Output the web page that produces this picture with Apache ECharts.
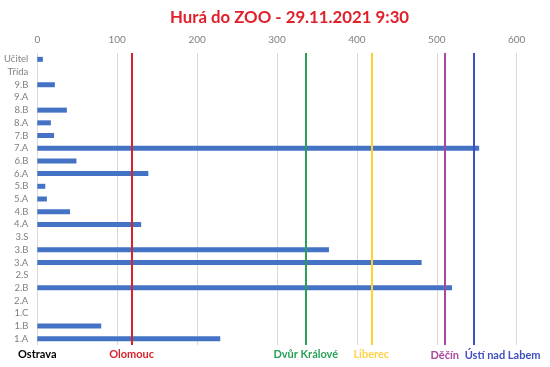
<!DOCTYPE html>
<html><head><meta charset="utf-8">
<script src="https://cdn.jsdelivr.net/npm/echarts@6/dist/echarts.min.js"></script>
<style>html,body{margin:0;padding:0;background:#fff}#c{width:550px;height:367px}</style>
</head><body><div id="c"></div>
<script>
const categories = ['1.A','1.B','1.C','2.A','2.B','2.S','3.A','3.B','3.S','4.A','4.B','5.A','5.B','6.A','6.B','7.A','7.B','8.A','8.B','9.A','9.B','Třída','Učitel'];
const values = [229, 80, 0, 0, 519, 0, 481, 365, 0, 130, 41, 12, 10, 139, 49, 553, 21, 17, 37, 0, 22, 0, 7];
const cityNames = ['Ostrava','Olomouc','Dvůr Králové','Liberec','Děčín','Ústí nad Labem'];
const cityDistances = [0, 118, 336, 418, 510, 546];
const xTicks = { min: 0, max: 600, interval: 100 };
const titleText = 'Hurá do ZOO - 29.11.2021 9:30';

const lineColors = ['transparent','#d7232d','#2a9f58','#ffd22e','#a8479f','#3f4fc0'];
const labelColors = ['#000000','#d7232d','#2a9f58','#ffd24a','#a8479f','#3f4fc0'];
const labelPad = [[0,0,0,0],[0,0,0,0],[0,0,0,0],[0,0,0,0],[0,0,0,0],[0,0,0,58]];
const FONT = 'Lato';

const chart = echarts.init(document.getElementById('c'), null, {renderer:'canvas'});
chart.setOption({
  animation: false,
  title: { text: titleText, left: 165, top: 4,
    textStyle: { color: '#e0202a', fontFamily: FONT, fontWeight: 'bold', fontSize: 16.8 } },
  grid: { left: 37.3, right: 33.3, top: 53, bottom: 22, containLabel: false },
  xAxis: { type: 'value', position: 'top', min: xTicks.min, max: xTicks.max, interval: xTicks.interval,
    axisLine: { show: false }, axisTick: { show: false },
    axisLabel: { color: '#7f7f7f', fontFamily: FONT, fontSize: 10, margin: 8 },
    splitLine: { lineStyle: { color: '#d9d9d9', width: 1 } } },
  yAxis: { type: 'category', data: categories,
    axisLine: { show: false }, axisTick: { show: false },
    axisLabel: { color: '#7f7f7f', fontFamily: FONT, fontSize: 9.5, margin: 9, interval: 0 } },
  series: [{
    type: 'bar', data: values, barWidth: 5,
    itemStyle: { color: '#4472c4' },
    markLine: {
      symbol: 'none', silent: true, z: 5,
      data: cityDistances.map((d, i) => ({
        xAxis: d,
        lineStyle: { color: lineColors[i], width: 2, type: 'solid' },
        label: { show: true, position: 'start', formatter: cityNames[i], distance: (i >= 4 ? 5 : 4),
          padding: labelPad[i],
          color: labelColors[i], fontFamily: FONT, fontWeight: 'bold', fontSize: 11 }
      }))
    }
  }]
});
</script></body></html>
